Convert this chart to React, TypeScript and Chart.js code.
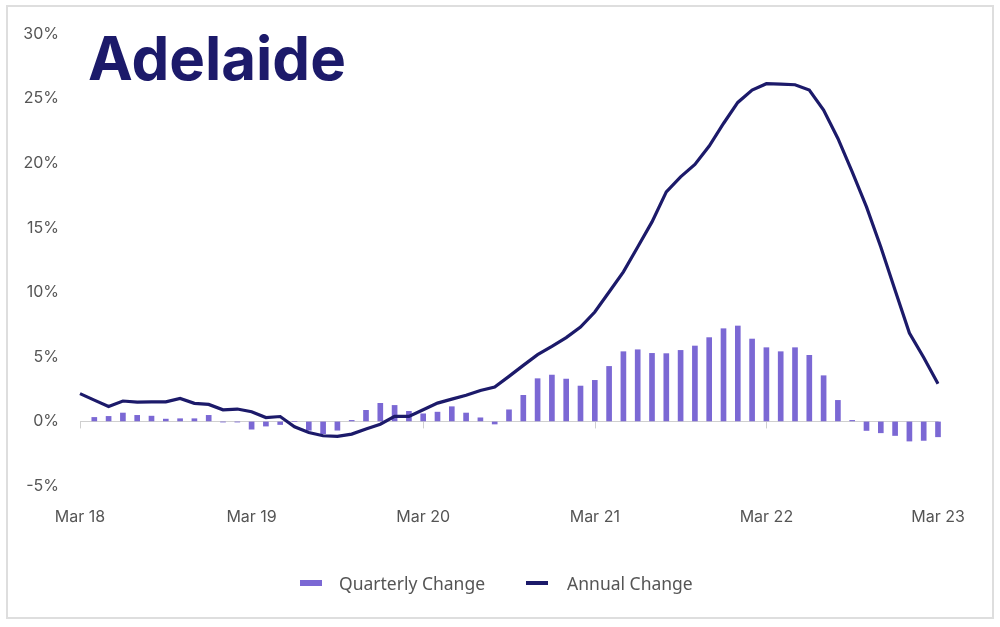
import React, { useEffect, useRef } from 'react';
import { Chart, registerables } from 'chart.js';

Chart.register(...registerables);

const monthLabels = [
  'Mar 18', 'Apr 18', 'May 18', 'Jun 18', 'Jul 18', 'Aug 18', 'Sep 18', 'Oct 18', 'Nov 18', 'Dec 18', 'Jan 19', 'Feb 19',
  'Mar 19', 'Apr 19', 'May 19', 'Jun 19', 'Jul 19', 'Aug 19', 'Sep 19', 'Oct 19', 'Nov 19', 'Dec 19', 'Jan 20', 'Feb 20',
  'Mar 20', 'Apr 20', 'May 20', 'Jun 20', 'Jul 20', 'Aug 20', 'Sep 20', 'Oct 20', 'Nov 20', 'Dec 20', 'Jan 21', 'Feb 21',
  'Mar 21', 'Apr 21', 'May 21', 'Jun 21', 'Jul 21', 'Aug 21', 'Sep 21', 'Oct 21', 'Nov 21', 'Dec 21', 'Jan 22', 'Feb 22',
  'Mar 22', 'Apr 22', 'May 22', 'Jun 22', 'Jul 22', 'Aug 22', 'Sep 22', 'Oct 22', 'Nov 22', 'Dec 22', 'Jan 23', 'Feb 23',
  'Mar 23',
];

// monthly % change over the quarter (bars)
const quarterlyChange = [
  null, 0.31, 0.39, 0.65, 0.47, 0.41, 0.18, 0.21, 0.21, 0.47, -0.05, -0.05,
  -0.6, -0.36, -0.24, 0, -0.68, -0.95, -0.68, 0.08, 0.86, 1.4, 1.24, 0.78,
  0.59, 0.72, 1.14, 0.65, 0.28, -0.2, 0.9, 2.02, 3.31, 3.59, 3.28, 2.74,
  3.18, 4.26, 5.4, 5.55, 5.27, 5.25, 5.5, 5.84, 6.49, 7.18, 7.39, 6.38,
  5.71, 5.4, 5.71, 5.12, 3.54, 1.63, 0.08, -0.7, -0.88, -1.09, -1.52, -1.47,
  -1.19,
];

// % change over the year (line)
const annualChange = [
  2.15, 1.65, 1.16, 1.58, 1.5, 1.52, 1.52, 1.78, 1.4, 1.32, 0.9, 0.96,
  0.75, 0.3, 0.38, -0.42, -0.86, -1.11, -1.16, -0.98, -0.58, -0.22, 0.39, 0.39,
  0.9, 1.42, 1.73, 2.02, 2.4, 2.66, 3.49, 4.34, 5.17, 5.81, 6.49, 7.3,
  8.47, 10.02, 11.58, 13.51, 15.45, 17.78, 18.94, 19.9, 21.32, 23.07, 24.7, 25.66,
  26.15, 26.12, 26.07, 25.66, 24.11, 21.91, 19.33, 16.61, 13.51, 10.16, 6.85, 4.95,
  2.92,
];

const BAR_COLOR = '#7b68d4';
const LINE_COLOR = '#1c1a6a';
const TEXT_COLOR = '#555555';

// short marks under the zero line at each labelled month
const yearTicks = {
  id: 'yearTicks',
  beforeDatasetsDraw(chart: any) {
    const { ctx, scales } = chart;
    const y0 = scales.y.getPixelForValue(0);
    ctx.save();
    ctx.strokeStyle = '#cfcfcf';
    ctx.lineWidth = 1;
    monthLabels.forEach((_, i) => {
      if (i % 12 !== 0) return;
      const x = Math.round(scales.x.getPixelForValue(i)) + 0.5;
      ctx.beginPath();
      ctx.moveTo(x, y0);
      ctx.lineTo(x, y0 + 7);
      ctx.stroke();
    });
    ctx.restore();
  },
};

const legendText: React.CSSProperties = {
  fontFamily: '"Noto Sans"',
  fontSize: 17.5,
  color: TEXT_COLOR,
  whiteSpace: 'nowrap',
};

const App: React.FC = () => {
  const chartRef = useRef<HTMLCanvasElement>(null);
  const chartInstance = useRef<Chart | null>(null);

  useEffect(() => {
    if (!chartRef.current) return;
    const ctx = chartRef.current.getContext('2d');
    if (!ctx) return;
    if (chartInstance.current) chartInstance.current.destroy();

    chartInstance.current = new Chart(ctx, {
      type: 'bar',
      data: {
        labels: monthLabels,
        datasets: [
          {
            type: 'bar',
            label: 'Quarterly Change',
            data: quarterlyChange as any,
            backgroundColor: BAR_COLOR,
            barThickness: 5,
            clip: false as any,
            order: 2,
          },
          {
            type: 'line',
            label: 'Annual Change',
            data: annualChange,
            borderColor: LINE_COLOR,
            backgroundColor: LINE_COLOR,
            borderWidth: 3.2,
            pointRadius: 0,
            tension: 0,
            order: 1,
          },
        ],
      },
      options: {
        animation: false,
        responsive: false,
        layout: { padding: { top: 34, right: 62, left: 0, bottom: 101 } },
        plugins: {
          legend: { display: false },
          tooltip: { enabled: false },
        },
        scales: {
          x: {
            offset: false,
            grid: { display: false },
            border: { display: false },
            ticks: {
              autoSkip: false,
              maxRotation: 0,
              padding: 14,
              color: TEXT_COLOR,
              font: { family: 'Inter', size: 16 },
              callback: (_v: any, i: number) => (i % 12 === 0 ? monthLabels[i] : ''),
            },
            afterFit: (scale: any) => {
              scale.height = 40;
            },
          },
          y: {
            min: -5,
            max: 30,
            border: { display: false },
            grid: {
              drawTicks: false,
              color: (c: any) => (c.tick && c.tick.value === 0 ? '#cfcfcf' : 'transparent'),
            },
            ticks: {
              stepSize: 5,
              padding: 21,
              color: TEXT_COLOR,
              font: { family: 'Inter', size: 16 },
              callback: (v: any) => `${v}%`,
            },
            afterFit: (scale: any) => {
              scale.width = 80;
            },
          },
        },
      },
      plugins: [yearTicks],
    });

    return () => {
      if (chartInstance.current) {
        chartInstance.current.destroy();
        chartInstance.current = null;
      }
    };
  }, []);

  return (
    <div style={{ position: 'fixed', left: 0, top: 0, width: 1000, height: 627, background: '#fff' }}>
      <div
        style={{
          position: 'absolute',
          left: 6,
          top: 5,
          width: 988,
          height: 614,
          border: '2px solid #dedede',
          boxSizing: 'border-box',
        }}
      />
      <canvas ref={chartRef} width={1000} height={627} style={{ position: 'absolute', left: 0, top: 0 }} />
      <div
        style={{
          position: 'absolute',
          left: 88,
          top: 28,
          fontFamily: 'Inter',
          fontWeight: 700,
          fontSize: 60,
          lineHeight: 1,
          color: LINE_COLOR,
        }}
      >
        Adelaide
      </div>
      <div
        style={{
          position: 'absolute',
          left: 300,
          top: 570,
          height: 26,
          display: 'flex',
          alignItems: 'center',
        }}
      >
        <span style={{ width: 22, height: 6, background: BAR_COLOR, marginRight: 17 }} />
        <span style={legendText}>Quarterly Change</span>
        <span style={{ width: 22, height: 4, background: LINE_COLOR, marginLeft: 41, marginRight: 19 }} />
        <span style={legendText}>Annual Change</span>
      </div>
    </div>
  );
};

export default App;
